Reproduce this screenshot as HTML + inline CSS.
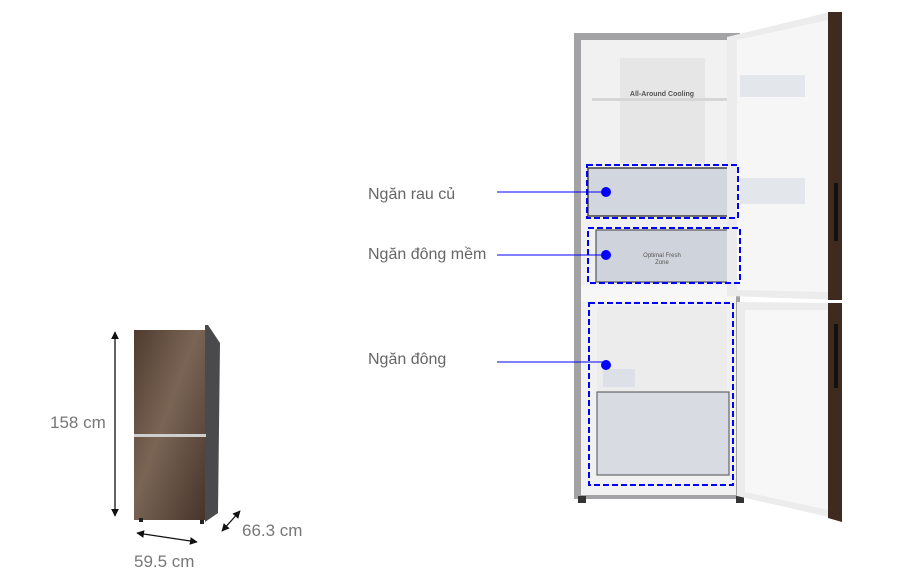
<!DOCTYPE html>
<html><head><meta charset="utf-8"><style>
html,body{margin:0;padding:0;background:#fff;width:908px;height:586px;overflow:hidden}
svg{display:block}
text{font-family:"Liberation Sans",sans-serif}
</style></head><body>
<svg width="908" height="586" viewBox="0 0 908 586" xmlns="http://www.w3.org/2000/svg">
<defs>
<linearGradient id="brown" x1="0" y1="0" x2="1" y2="1">
<stop offset="0" stop-color="#4f3b2e"/><stop offset="0.45" stop-color="#7a6555"/><stop offset="1" stop-color="#46342a"/>
</linearGradient>
<marker id="ah" viewBox="0 0 10 10" refX="9" refY="5" markerWidth="6" markerHeight="6" orient="auto-start-reverse"><path d="M0,0 L10,5 L0,10 z" fill="#111"/></marker>
</defs>

<polygon points="205,325 208,325 220,343 218,513 205,522" fill="#4a4a4c"/>
<rect x="134" y="330" width="71" height="190" fill="url(#brown)"/>
<rect x="134" y="434" width="72" height="3" fill="#cfcfcf"/>
<rect x="139" y="518" width="4" height="4" fill="#222"/>
<rect x="200" y="520" width="4" height="4" fill="#222"/>
<line x1="115" y1="332" x2="115" y2="516" stroke="#111" stroke-width="1.3" marker-start="url(#ah)" marker-end="url(#ah)"/>
<line x1="137" y1="533" x2="197" y2="542" stroke="#111" stroke-width="1.3" marker-start="url(#ah)" marker-end="url(#ah)"/>
<line x1="222" y1="531" x2="240" y2="511" stroke="#111" stroke-width="1.3" marker-start="url(#ah)" marker-end="url(#ah)"/>
<text x="50" y="428" font-size="17" fill="#777">158 cm</text>
<text x="134" y="567" font-size="17" fill="#777">59.5 cm</text>
<text x="242" y="536" font-size="17" fill="#777">66.3 cm</text>

<rect x="574" y="33" width="166" height="466" fill="#a3a3a5"/>
<rect x="581" y="40" width="155" height="455" fill="#f1f1f1"/>
<rect x="620" y="58" width="85" height="105" fill="#e6e6e6"/>
<text x="662" y="96" font-size="7" fill="#555" text-anchor="middle" font-weight="bold">All-Around Cooling</text>
<rect x="592" y="98" width="143" height="3" fill="#d6d6d6"/>
<rect x="588" y="168" width="147" height="48" fill="#d2d6df" stroke="#444" stroke-width="1.5"/>
<rect x="596" y="230" width="140" height="52" fill="#cfd3dc" stroke="#555" stroke-width="1.2"/>
<text x="662" y="257" font-size="6" fill="#555" text-anchor="middle">Optimal Fresh</text>
<text x="662" y="264" font-size="6" fill="#555" text-anchor="middle">Zone</text>
<rect x="581" y="285" width="155" height="16" fill="#f7f7f7"/>
<rect x="597" y="306" width="130" height="86" fill="#ececec"/>
<rect x="603" y="369" width="32" height="18" fill="#dde0e6"/>
<rect x="597" y="392" width="132" height="83" fill="#d8dbe2" stroke="#666" stroke-width="1.2"/>
<rect x="578" y="496" width="8" height="7" fill="#333"/>
<rect x="736" y="496" width="8" height="7" fill="#333"/>

<polygon points="727,37 830,12 840,12 840,300 727,296" fill="#ececec"/>
<polygon points="737,40 828,20 828,292 737,290" fill="#f6f6f6"/>
<polygon points="828,12 842,12 842,300 828,300" fill="#3e2a1f"/>
<rect x="834" y="183" width="4" height="58" fill="#111"/>
<rect x="740" y="75" width="65" height="22" fill="#dfe3ea" opacity="0.8"/>
<rect x="740" y="178" width="65" height="26" fill="#dfe3ea" opacity="0.8"/>
<polygon points="737,302 842,303 842,520 737,496" fill="#ececec"/>
<polygon points="745,310 828,310 828,510 745,492" fill="#f7f7f7"/>
<polygon points="828,303 842,303 842,522 828,518" fill="#3e2a1f"/>
<rect x="834" y="324" width="4" height="64" fill="#111"/>

<g fill="none" stroke="#0000ff" stroke-width="2" stroke-dasharray="6,3">
<rect x="587" y="165" width="151" height="53"/>
<rect x="588" y="228" width="152" height="55"/>
<rect x="589" y="303" width="144" height="182"/>
</g>
<g stroke="#0000ff" stroke-width="1">
<line x1="497" y1="192" x2="605" y2="192"/>
<line x1="497" y1="255" x2="605" y2="255"/>
<line x1="497" y1="362" x2="605" y2="362"/>
</g>
<g fill="#0000ff">
<circle cx="606" cy="192" r="5"/>
<circle cx="606" cy="255" r="5"/>
<circle cx="606" cy="365" r="5"/>
</g>
<text x="368" y="199" font-size="16" fill="#666">Ngăn rau củ</text>
<text x="368" y="259" font-size="16" fill="#666">Ngăn đông mềm</text>
<text x="368" y="364" font-size="16" fill="#666">Ngăn đông</text>
</svg>
</body></html>
